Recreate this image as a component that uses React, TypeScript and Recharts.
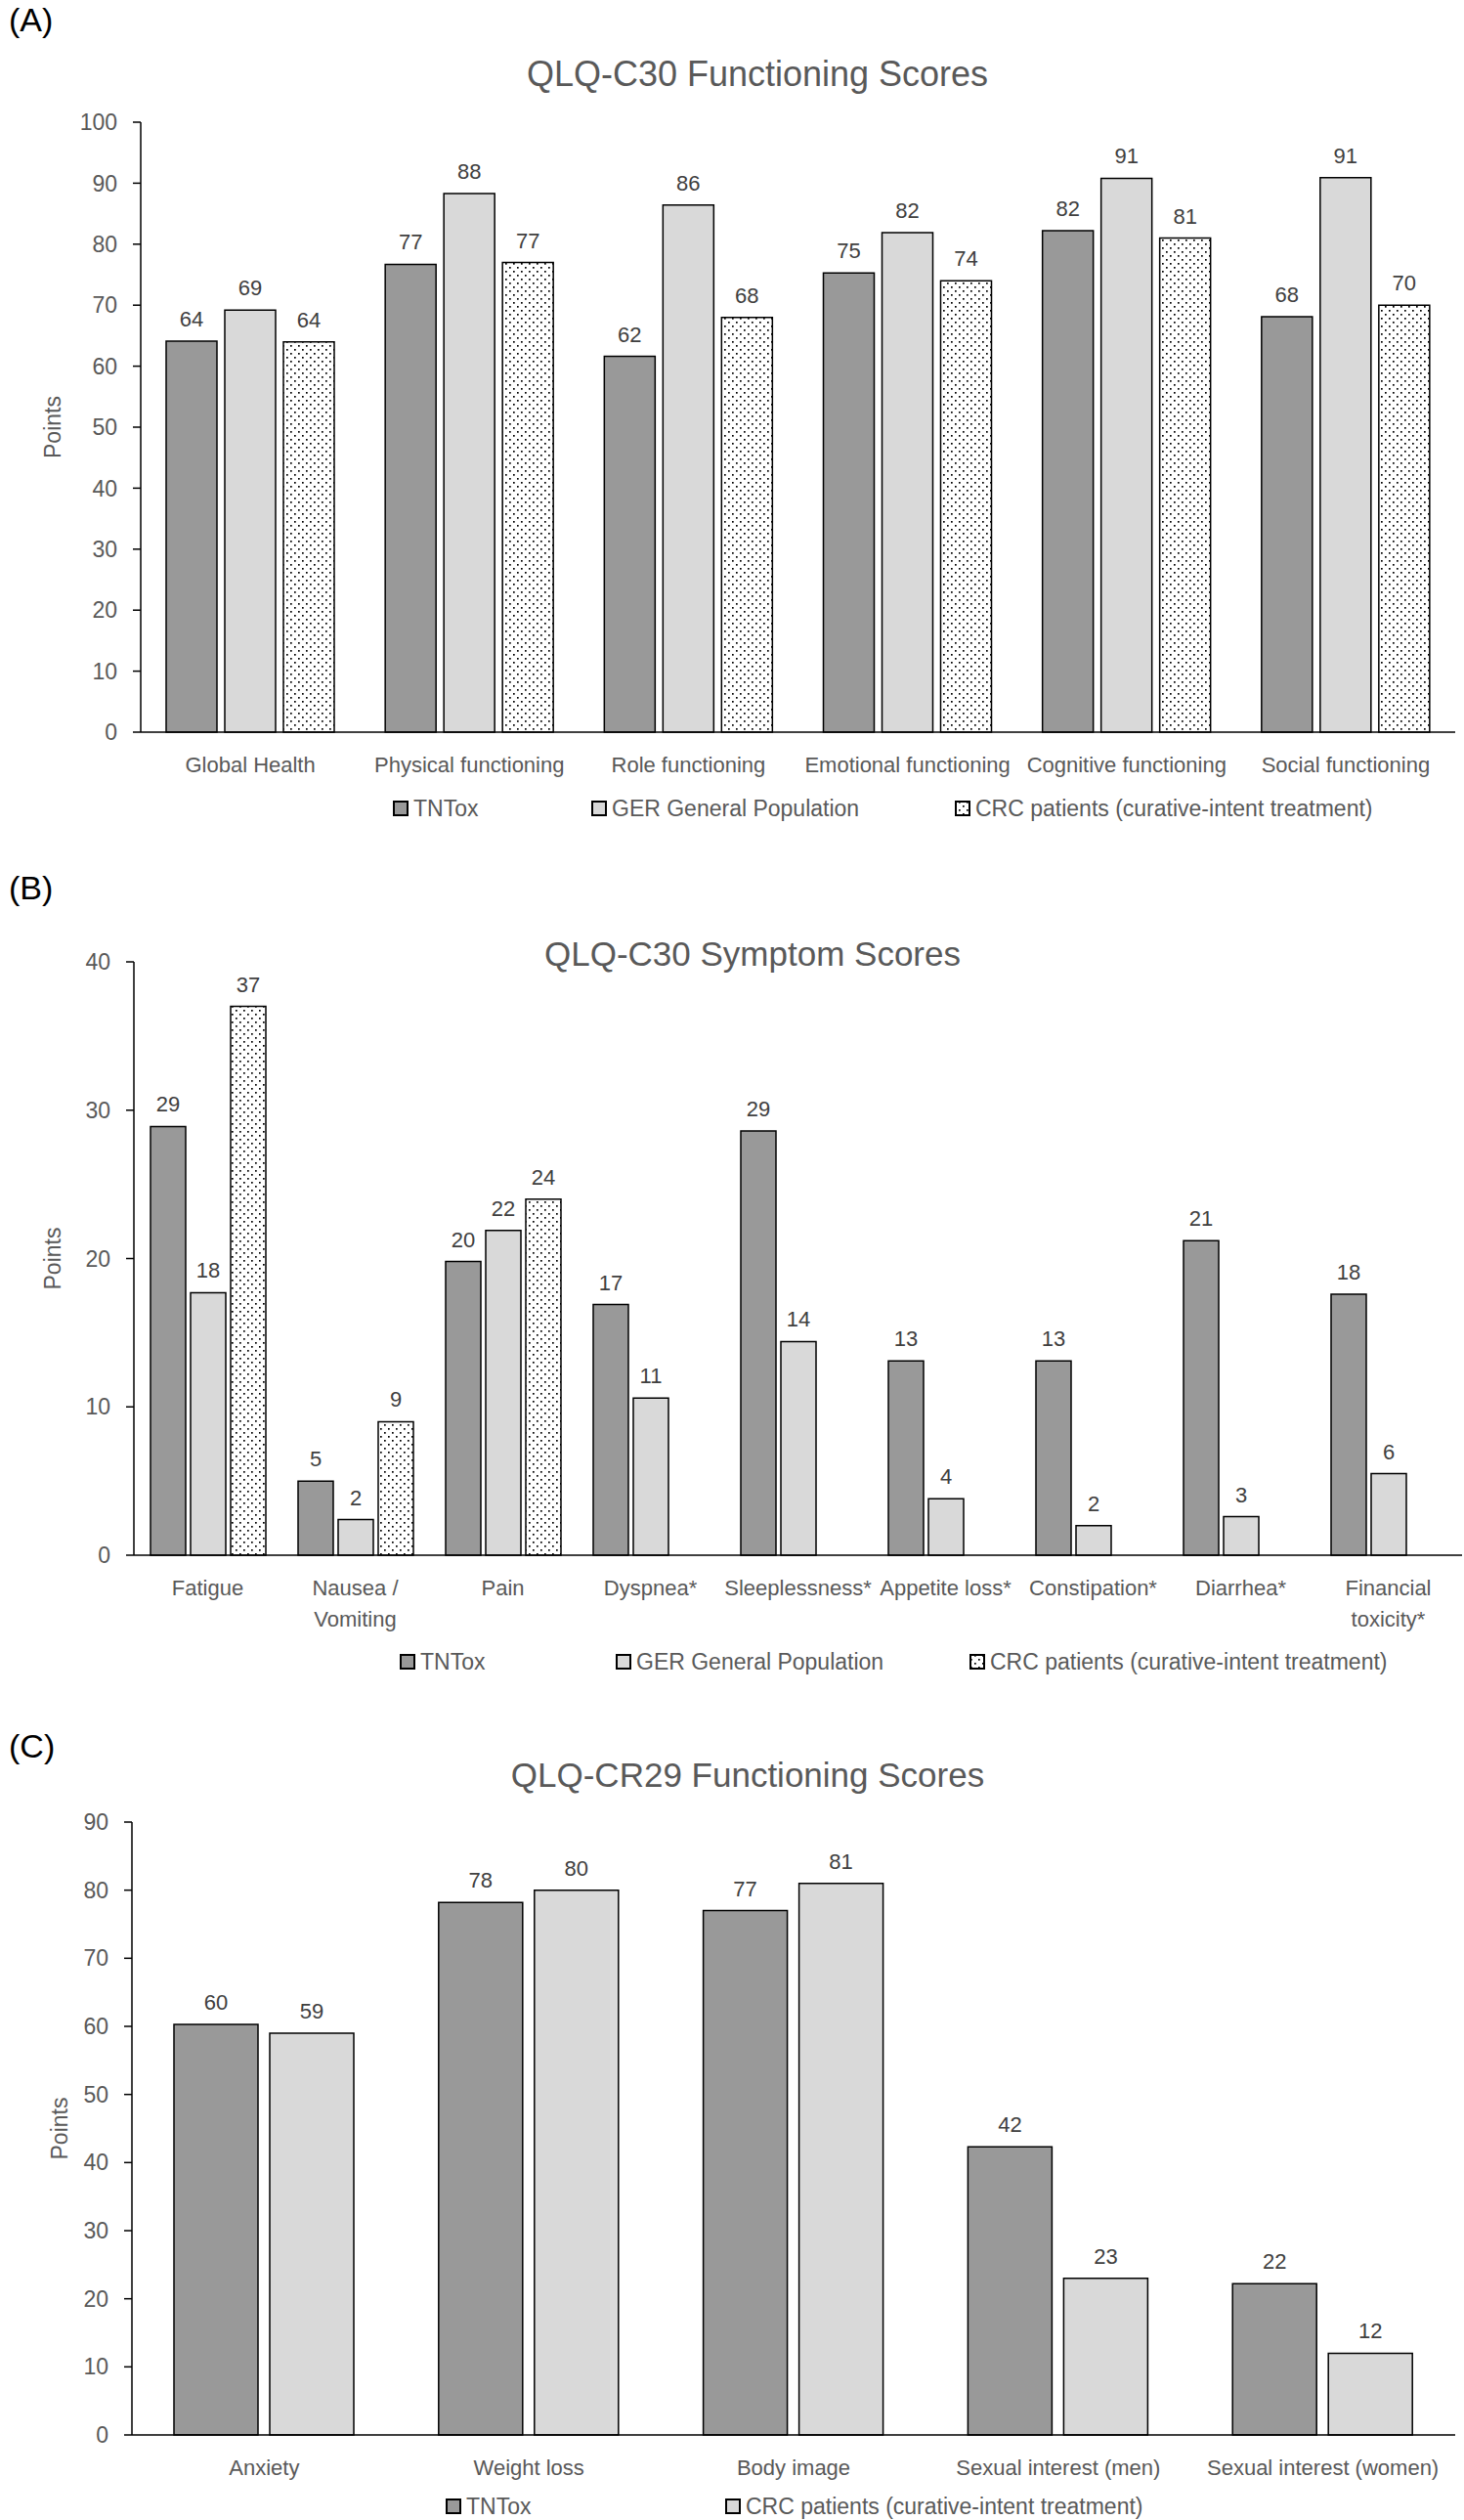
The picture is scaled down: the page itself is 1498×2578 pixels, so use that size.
import React from 'react';
import { BarChart, Bar, XAxis, YAxis, LabelList, Legend } from 'recharts';

// ---------- data ----------
const categoriesA = ['Global Health', 'Physical functioning', 'Role functioning', 'Emotional functioning', 'Cognitive functioning', 'Social functioning'];
const tntoxA = [64.1, 76.7, 61.6, 75.3, 82.2, 68.1];
const gerA = [69.2, 88.3, 86.4, 81.9, 90.8, 90.9];
const crcA = [64.0, 77.0, 68.0, 74.0, 81.0, 70.0];
const ticksA = [0, 10, 20, 30, 40, 50, 60, 70, 80, 90, 100];

const categoriesB = ['Fatigue', 'Nausea /\nVomiting', 'Pain', 'Dyspnea*', 'Sleeplessness*', 'Appetite loss*', 'Constipation*', 'Diarrhea*', 'Financial\ntoxicity*'];
const tntoxB = [28.9, 5.0, 19.8, 16.9, 28.6, 13.1, 13.1, 21.2, 17.6];
const gerB = [17.7, 2.4, 21.9, 10.6, 14.4, 3.8, 2.0, 2.6, 5.5];
const crcB: (number | null)[] = [37.0, 9.0, 24.0, null, null, null, null, null, null];
const ticksB = [0, 10, 20, 30, 40];

const categoriesC = ['Anxiety', 'Weight loss', 'Body image', 'Sexual interest (men)', 'Sexual interest (women)'];
const tntoxC = [60.3, 78.2, 77.0, 42.3, 22.2];
const crcC = [59.0, 80.0, 81.0, 23.0, 12.0];
const ticksC = [0, 10, 20, 30, 40, 50, 60, 70, 80, 90];

const seriesNames = {
  tntox: 'TNTox',
  ger: 'GER General Population',
  crc: 'CRC patients (curative-intent treatment)',
};

const titles = ['QLQ-C30 Functioning Scores', 'QLQ-C30 Symptom Scores', 'QLQ-CR29 Functioning Scores'];
const panelLetters = ['(A)', '(B)', '(C)'];
const yAxisTitle = 'Points';

// ---------- styles ----------
const FONT = "'Liberation Sans', Arial, Helvetica, sans-serif";
const DARK = '#999999';
const LIGHT = '#d9d9d9';
const TICK_COLOR = '#595959';
const LABEL_COLOR = '#404040';
const W = 1498;

type SeriesDef = { key: string; name: string; fill: string };

const buildRows = (cats: string[], series: Record<string, (number | null)[]>) =>
  cats.map((c, i) => {
    const r: any = { name: c };
    Object.keys(series).forEach((k) => {
      r[k] = series[k][i];
    });
    return r;
  });

const rowsA = buildRows(categoriesA, { tntox: tntoxA, ger: gerA, crc: crcA });
const rowsB = buildRows(categoriesB, { tntox: tntoxB, ger: gerB, crc: crcB });
const rowsC = buildRows(categoriesC, { tntox: tntoxC, crc: crcC });

const fmt = (v: any) => (v === null || v === undefined || v === '' ? '' : String(Math.round(Number(v))));

const CatTick = (props: any) => {
  const { x, y, payload } = props;
  const lines = String(payload.value).split('\n');
  return (
    <text x={x} y={y + 41} textAnchor="middle" fill={TICK_COLOR} fontSize={22} fontFamily={FONT}>
      {lines.map((l, i) => (
        <tspan key={i} x={x} dy={i === 0 ? 0 : 32}>
          {l}
        </tspan>
      ))}
    </text>
  );
};

type PanelProps = {
  top: number;
  height: number;
  rows: any[];
  series: SeriesDef[];
  max: number;
  ticks: number[];
  plotTop: number;
  axisHeight: number;
  yAxisWidth: number;
  marginRight: number;
  barSize: number;
  barGap: number;
  legendTop: number;
  legendXs: number[];
  patternId: string;
  pointsX: number;
};

function Panel(p: PanelProps) {
  const plotBottom = p.height - p.axisHeight;
  const cy = (p.plotTop + plotBottom) / 2;
  const fillOf = (f: string) => (f === 'pattern' ? `url(#${p.patternId})` : f);
  const legendContent = () => (
    <svg width={W} height={26} style={{ display: 'block', overflow: 'visible' }}>
      {p.series.map((s, i) => (
        <g key={s.key}>
          <rect x={p.legendXs[i]} y={5} width={14} height={14} fill={fillOf(s.fill)} stroke="#000" strokeWidth={2} />
          <text x={p.legendXs[i] + 20} y={20} fontSize={23} fill={TICK_COLOR} fontFamily={FONT}>
            {s.name}
          </text>
        </g>
      ))}
    </svg>
  );
  return (
    <div style={{ position: 'absolute', left: 0, top: p.top, width: W, height: p.height }}>
      <BarChart
        width={W}
        height={p.height}
        data={p.rows}
        margin={{ top: p.plotTop, right: p.marginRight, bottom: 0, left: 0 }}
        barGap={p.barGap}
      >
        <defs>
          <pattern id={p.patternId} width={8} height={8} patternUnits="userSpaceOnUse">
            <rect width={8} height={8} fill="#ffffff" />
            <rect x={1} y={1} width={1.7} height={1.7} fill="#000" />
            <rect x={5} y={5} width={1.7} height={1.7} fill="#000" />
          </pattern>
        </defs>
        <XAxis
          dataKey="name"
          type="category"
          interval={0}
          height={p.axisHeight}
          tickSize={0}
          tickMargin={0}
          tickLine={false}
          axisLine={{ stroke: '#000', strokeWidth: 1.5 }}
          tick={(tp: any) => <CatTick {...tp} />}
        />
        <YAxis
          type="number"
          domain={[0, p.max]}
          ticks={p.ticks}
          interval={0}
          width={p.yAxisWidth}
          tickSize={8}
          tickMargin={16}
          tickLine={{ stroke: '#000', strokeWidth: 1.5 }}
          axisLine={{ stroke: '#000', strokeWidth: 1.5 }}
          tick={{ fill: TICK_COLOR, fontSize: 23, fontFamily: FONT }}
          label={{
            content: () => (
              <text
                x={p.pointsX}
                y={cy}
                transform={`rotate(-90 ${p.pointsX} ${cy})`}
                textAnchor="middle"
                dy="0.35em"
                fontSize={23}
                fill={TICK_COLOR}
                fontFamily={FONT}
              >
                {yAxisTitle}
              </text>
            ),
          }}
        />
        {p.series.map((s) => (
          <Bar
            key={s.key}
            dataKey={s.key}
            name={s.name}
            fill={fillOf(s.fill)}
            stroke="#000"
            strokeWidth={1.5}
            barSize={p.barSize}
            isAnimationActive={false}
          >
            <LabelList
              dataKey={s.key}
              position="top"
              offset={15}
              formatter={fmt}
              fill={LABEL_COLOR}
              fontSize={22}
              fontFamily={FONT}
            />
          </Bar>
        ))}
        <Legend
          layout="horizontal"
          verticalAlign="middle"
          align="center"
          content={legendContent}
          wrapperStyle={{ position: 'absolute', top: p.legendTop, left: 0, width: W, height: 26, margin: 0, padding: 0 }}
        />
      </BarChart>
    </div>
  );
}

const seriesA: SeriesDef[] = [
  { key: 'tntox', name: seriesNames.tntox, fill: DARK },
  { key: 'ger', name: seriesNames.ger, fill: LIGHT },
  { key: 'crc', name: seriesNames.crc, fill: 'pattern' },
];
const seriesC: SeriesDef[] = [
  { key: 'tntox', name: seriesNames.tntox, fill: DARK },
  { key: 'crc', name: seriesNames.crc, fill: LIGHT },
];

export default function App() {
  return (
    <div
      style={{
        position: 'absolute',
        left: 0,
        top: 0,
        width: W,
        height: 2578,
        background: '#ffffff',
        fontFamily: FONT,
        overflow: 'hidden',
      }}
    >
      <Panel
        top={0}
        height={880}
        rows={rowsA}
        series={seriesA}
        max={100}
        ticks={ticksA}
        plotTop={125}
        axisHeight={131}
        yAxisWidth={144}
        marginRight={9}
        barSize={52}
        barGap={8}
        legendTop={815}
        legendXs={[403, 606, 978]}
        patternId="dotsA"
        pointsX={54}
      />
      <Panel
        top={880}
        height={860}
        rows={rowsB}
        series={seriesA}
        max={40}
        ticks={ticksB}
        plotTop={104}
        axisHeight={149}
        yAxisWidth={137}
        marginRight={2}
        barSize={36}
        barGap={5}
        legendTop={808}
        legendXs={[410, 631, 993]}
        patternId="dotsB"
        pointsX={54}
      />
      <Panel
        top={1740}
        height={838}
        rows={rowsC}
        series={seriesC}
        max={90}
        ticks={ticksC}
        plotTop={124}
        axisHeight={87}
        yAxisWidth={135}
        marginRight={9}
        barSize={86}
        barGap={12}
        legendTop={812}
        legendXs={[457, 743]}
        patternId="dotsC"
        pointsX={61}
      />
      <svg
        width={W}
        height={2578}
        style={{ position: 'absolute', left: 0, top: 0, pointerEvents: 'none' }}
      >
        <text x={9} y={32} fontSize={34} fill="#000" fontFamily={FONT}>{panelLetters[0]}</text>
        <text x={775} y={88} fontSize={36} fill={TICK_COLOR} textAnchor="middle" fontFamily={FONT}>{titles[0]}</text>
        <text x={9} y={920} fontSize={34} fill="#000" fontFamily={FONT}>{panelLetters[1]}</text>
        <text x={770} y={988} fontSize={35} fill={TICK_COLOR} textAnchor="middle" fontFamily={FONT}>{titles[1]}</text>
        <text x={9} y={1798} fontSize={34} fill="#000" fontFamily={FONT}>{panelLetters[2]}</text>
        <text x={765} y={1828} fontSize={35} fill={TICK_COLOR} textAnchor="middle" fontFamily={FONT}>{titles[2]}</text>
      </svg>
    </div>
  );
}
